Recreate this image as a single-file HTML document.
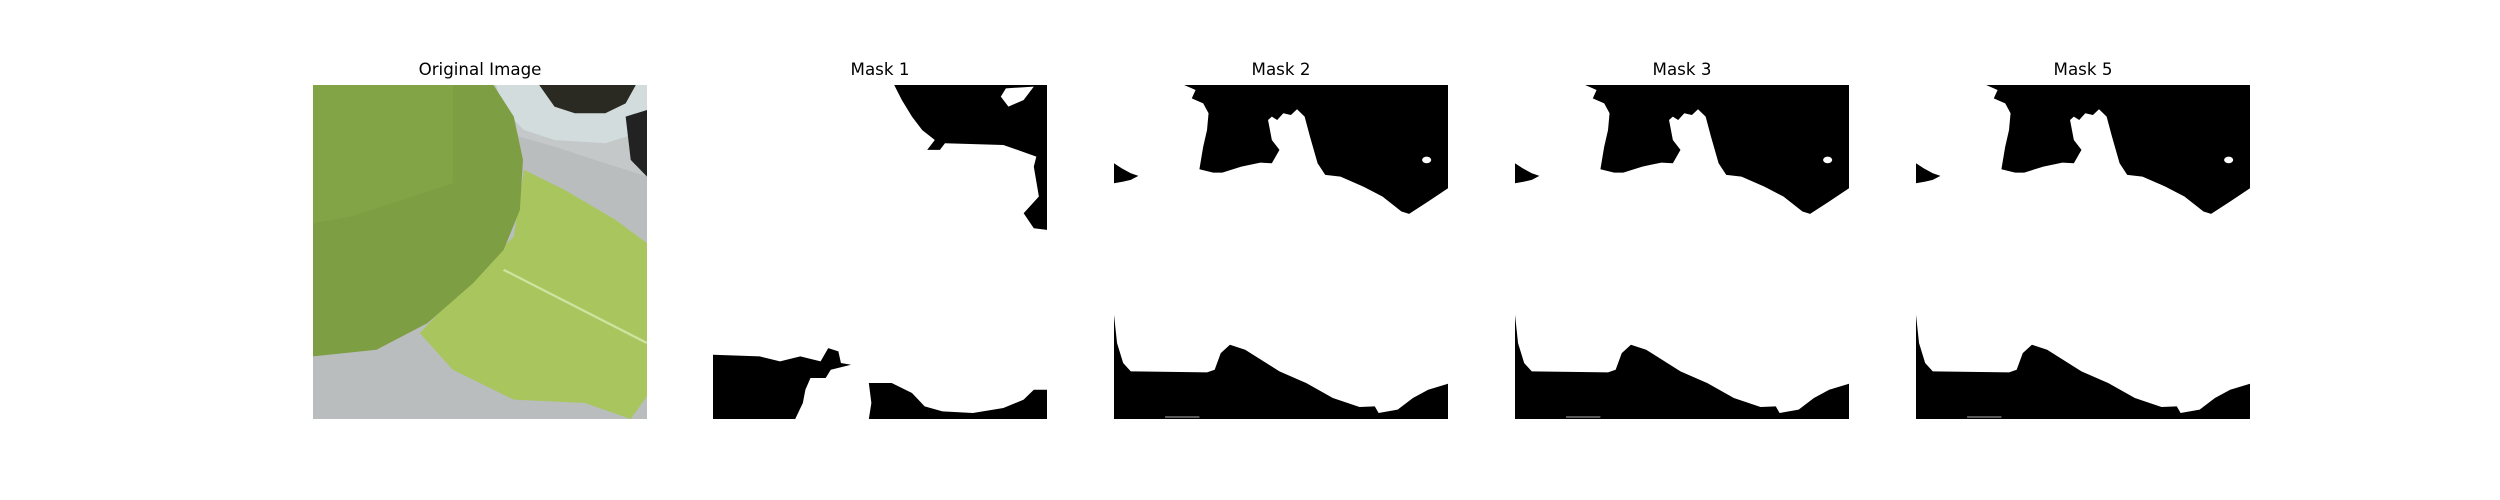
<!DOCTYPE html>
<html><head><meta charset="utf-8"><style>
html,body{margin:0;padding:0;background:#fff;}
body{width:2500px;height:500px;position:relative;overflow:hidden;font-family:"Liberation Sans","DejaVu Sans",sans-serif;}
.ax{position:absolute;top:85px;width:334px;height:334px;}
.ttl{position:absolute;top:59px;width:334px;text-align:center;font-size:16.7px;color:#000;font-family:"DejaVu Sans","Liberation Sans",sans-serif;}
svg{display:block;}
</style></head><body>
<div>
<div class="ttl" style="left:313px">Original Image</div>
<div class="ax" style="left:313px">
<svg width="334" height="334" viewBox="25 105 657 1003" preserveAspectRatio="none">
<rect x="25" y="105" width="657" height="1003" fill="#b9bdbd"/>
<path d="M380 105 L682 105 L682 380 L600 340 L500 290 L430 260 Z" fill="#c4c8c8"/>
<path d="M460 105 L682 105 L682 240 L600 280 L500 270 L440 240 L400 180 L385 105 Z" fill="#d2dcdc"/>
<path d="M470 105 L660 105 L640 160 L600 190 L540 190 L500 170 Z" fill="#2b2a22"/>
<path d="M640 200 L682 180 L682 380 L650 330 Z" fill="#222"/>
<path d="M440 360 L520 420 L620 510 L682 580 L682 1040 L650 1108 L560 1060 L420 1050 L300 960 L235 850 L340 680 L420 560 Z" fill="#a9c65e"/>
<path d="M400 660 L682 880" stroke="#cfe2a0" stroke-width="6"/>
<path d="M25 105 L380 105 L420 200 L438 330 L432 480 L400 600 L340 700 L250 820 L150 900 L25 920 Z" fill="#7d9e42"/>
<path d="M25 105 L300 105 L300 400 L100 500 L25 520 Z" fill="#86a84a" opacity="0.6"/>
</svg></div>

<div class="ttl" style="left:713px">Mask 1</div>
<div class="ax" style="left:713px">
<svg width="334" height="334" viewBox="808 105 658 1003" preserveAspectRatio="none">
<rect x="808" y="105" width="658" height="1003" fill="#fff"/>
<path d="M1165 105 L1466 105 L1466 540 L1440 535 L1420 490 L1450 440 L1440 350 L1445 320 L1380 285 L1265 280 L1255 300 L1230 300 L1245 270 L1220 240 L1200 200 L1180 150 Z" fill="#000"/>
<path d="M1385 115 L1440 110 L1420 150 L1390 170 L1375 140 Z" fill="#fff"/>
<path d="M808 915 L900 920 L940 935 L980 920 L1020 935 L1035 895 L1055 905 L1060 940 L1080 945 L1040 960 L1030 985 L1000 985 L990 1020 L985 1060 L970 1108 L808 1108 Z" fill="#000"/>
<path d="M1115 1000 L1160 1000 L1200 1030 L1225 1070 L1260 1085 L1320 1090 L1380 1075 L1420 1050 L1440 1020 L1466 1020 L1466 1108 L1115 1108 L1120 1060 Z" fill="#000"/>
</svg></div>

<div class="ttl" style="left:1114px">Mask 2</div>
<div class="ax" style="left:1114px">
<svg width="334" height="334" viewBox="18 105 438 1003" preserveAspectRatio="none"><use href="#m"/></svg></div>

<div class="ttl" style="left:1515px">Mask 3</div>
<div class="ax" style="left:1515px">
<svg width="334" height="334" viewBox="18 105 438 1003" preserveAspectRatio="none"><use href="#m"/></svg></div>

<div class="ttl" style="left:1916px">Mask 5</div>
<div class="ax" style="left:1916px">
<svg width="334" height="334" viewBox="18 105 438 1003" preserveAspectRatio="none"><use href="#m"/></svg></div>

<svg width="0" height="0" style="position:absolute"><defs><g id="m">
<rect x="18" y="105" width="438" height="1003" fill="#fff"/>
<path d="M110 105 L456 105 L456 415 L430 455 L405 492 L395 485 L370 440 L345 410 L315 380 L295 375 L285 340 L275 260 L268 200 L258 178 L250 195 L240 190 L232 210 L225 200 L220 210 L225 270 L235 300 L225 340 L210 338 L185 350 L160 368 L148 368 L130 358 L135 290 L140 240 L142 190 L135 160 L120 145 L125 120 Z" fill="#000"/>
<ellipse cx="428" cy="330" rx="6" ry="10" fill="#fff"/>
<path d="M18 340 L28 355 L40 370 L50 378 L40 390 L30 395 L18 400 Z" fill="#000"/>
<path d="M18 795 L22 880 L30 940 L40 965 L140 968 L150 960 L158 910 L170 885 L190 900 L235 965 L270 1000 L305 1045 L340 1072 L360 1070 L365 1090 L390 1080 L410 1045 L430 1020 L456 1002 L456 1108 L18 1108 Z" fill="#000"/>
<rect x="85" y="1100" width="45" height="4" fill="#888"/>
</g></defs></svg>
</div>
</body></html>
